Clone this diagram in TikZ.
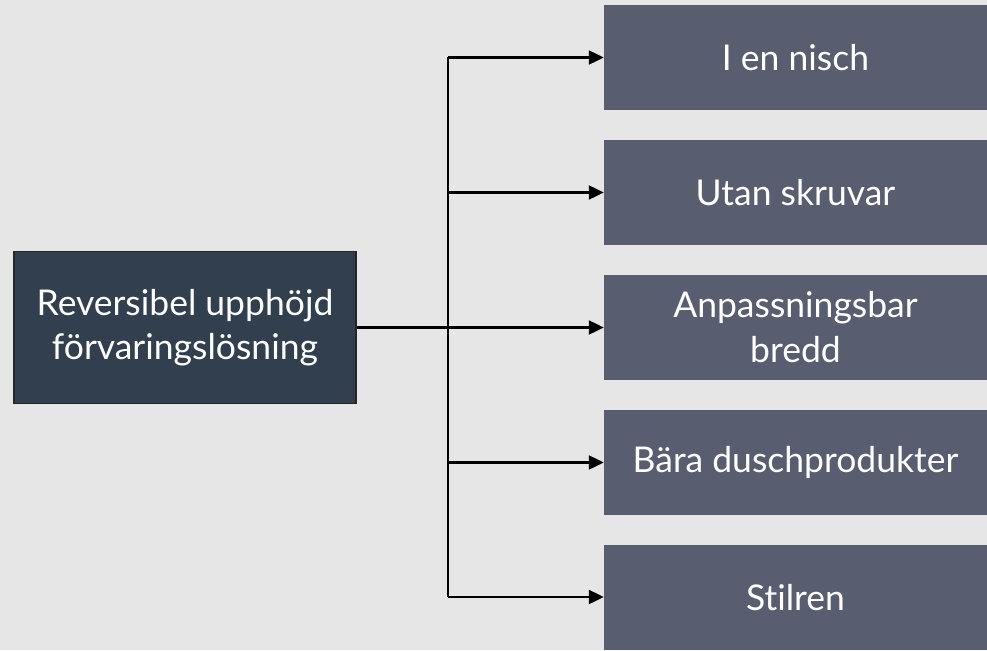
\documentclass[tikz,border=0pt]{standalone}
\usepackage{fontspec}
\setmainfont[Ligatures=NoCommon]{Lato}
\usetikzlibrary{arrows.meta}
\definecolor{bgc}{HTML}{E6E6E6}
\definecolor{mainc}{HTML}{323F4F}
\definecolor{subc}{HTML}{585D70}
\begin{document}
\begin{tikzpicture}[x=1pt,y=-1pt,
  mainbox/.style={draw=black!85,line width=1.5pt,fill=mainc,text=white,minimum width=342pt,minimum height=152pt,align=center,inner sep=0pt,font=\fontsize{35.5}{44}\selectfont},
  subbox/.style={fill=subc,text=white,minimum width=383pt,minimum height=105pt,align=center,inner sep=0pt,font=\fontsize{35.5}{45}\selectfont},
  conn/.style={line width=2.2pt,-{Triangle[length=15pt,width=14pt]}},
  trunk/.style={line width=2.2pt}]
\fill[bgc] (0,0) rectangle (987,650);
\useasboundingbox (0,0) rectangle (987,650);
\node[mainbox] (m) at (185,327.5) {Reversibel upphöjd\\förvaringslösning};
\node[subbox] (s1) at (795.5,57.5) {I en nisch};
\node[subbox] (s2) at (795.5,192.5) {Utan skruvar};
\node[subbox] (s3) at (795.5,327.5) {Anpassningsbar\\bredd};
\node[subbox] (s4) at (795.5,462.5) {Bära duschprodukter};
\node[subbox] (s5) at (795.5,597.5) {Stilren};
\coordinate (t1) at (448,57.5);
\coordinate (t5) at (448,597);
\draw[trunk] (t1) -- (t5);
\draw[conn] (m.east) -- (s3.west);
\draw[conn] (t1) -- (s1.west);
\draw[conn] (t1 |- s2.west) -- (s2.west);
\draw[conn] (t1 |- s4.west) -- (s4.west);
\draw[conn] (t5) -- (t5 -| s5.west);
\end{tikzpicture}
\end{document}
